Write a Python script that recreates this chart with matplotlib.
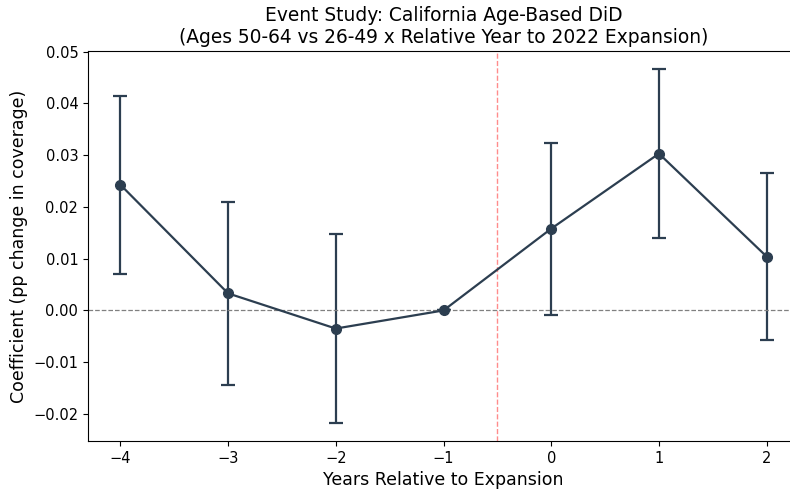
import numpy as np
import matplotlib.pyplot as plt

# event-study coefficients, relative year -1 is the omitted reference
rel_year = [-4, -3, -2, -1, 0, 1, 2]
coef = [0.0243, 0.0033, -0.0035, 0.0, 0.0158, 0.0303, 0.0104]
ci_low = [0.0071, -0.0145, -0.0218, 0.0, -0.0008, 0.0139, -0.0058]
ci_high = [0.0415, 0.0209, 0.0147, 0.0, 0.0324, 0.0467, 0.0266]

coef = np.array(coef)
yerr = np.vstack([coef - np.array(ci_low), np.array(ci_high) - coef])

fig = plt.figure(figsize=(7.9, 4.9), dpi=100)
ax = fig.add_axes([88 / 790, (490 - 441) / 490, (799 - 88) / 790, (441 - 51) / 490])

ax.errorbar(rel_year, coef, yerr=yerr, fmt='-o', color='#2c3e50',
            ecolor='#2c3e50', capsize=5, capthick=1.6, elinewidth=1.6,
            linewidth=1.6, markersize=7)
ax.axhline(0, color='gray', linestyle='--', linewidth=0.9)
ax.axvline(-0.5, color='red', linestyle='--', linewidth=1.0, alpha=0.45)

ax.set_xlim(-4.3, 2.3)
ax.tick_params(labelsize=10.5)
ax.set_xlabel('Years Relative to Expansion', fontsize=12.5)
ax.set_ylabel('Coefficient (pp change in coverage)', fontsize=12.5)
ax.set_title('Event Study: California Age-Based DiD\n'
             '(Ages 50-64 vs 26-49 x Relative Year to 2022 Expansion)',
             fontsize=13.4)

fig.savefig('out.png', dpi=100)
